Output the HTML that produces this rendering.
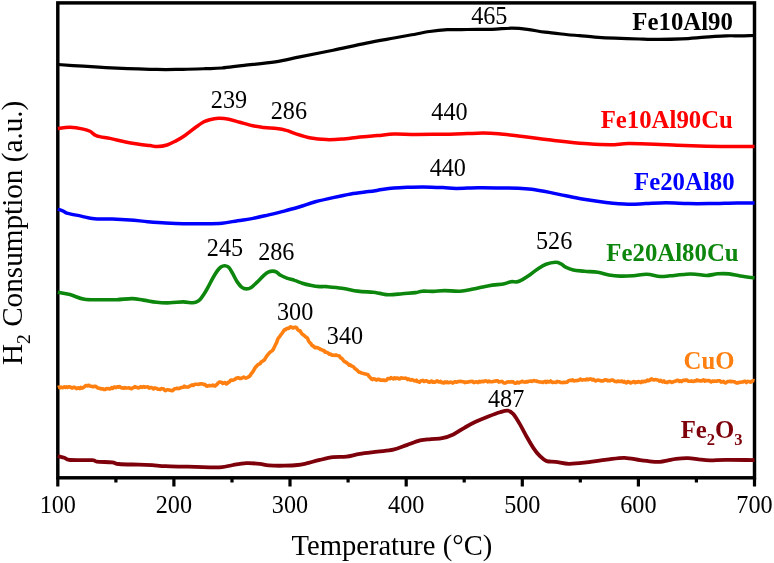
<!DOCTYPE html>
<html lang="en"><head><meta charset="utf-8"><title>H2-TPR profiles</title>
<style>html,body{margin:0;padding:0;background:#fff}body{width:774px;height:563px;overflow:hidden}svg{display:block}text{font-family:"Liberation Serif","Times New Roman",serif}.n{font-size:24.2px;fill:#000;text-anchor:middle}.b{font-size:24.8px;font-weight:bold;text-anchor:end}.ax{font-size:28.6px;fill:#000}</style></head><body>
<svg width="774" height="563" viewBox="0 0 774 563">
<rect x="0" y="0" width="774" height="563" fill="#ffffff"/>
<path d="M57.8,477.8 V486.4 M115.9,477.8 V482.4 M173.9,477.8 V486.4 M232.0,477.8 V482.4 M290.0,477.8 V486.4 M348.1,477.8 V482.4 M406.2,477.8 V486.4 M464.2,477.8 V482.4 M522.3,477.8 V486.4 M580.3,477.8 V482.4 M638.4,477.8 V486.4 M696.4,477.8 V482.4 M754.5,477.8 V486.4" stroke="#000" stroke-width="3.2" fill="none"/>
<rect x="57.8" y="2.9" width="696.7" height="474.9" fill="none" stroke="#000" stroke-width="3.45"/>
<path d="M57.8,64.5 C62.0,64.8 75.3,65.7 83.3,66.2 C91.3,66.7 98.2,67.2 105.6,67.6 C113.0,68.0 120.4,68.4 127.8,68.7 C135.2,69.0 143.7,69.2 150.0,69.3 C156.3,69.4 160.0,69.6 165.6,69.6 C171.2,69.6 176.6,69.4 183.3,69.3 C190.0,69.2 199.2,68.9 205.6,68.7 C212.0,68.5 215.6,68.6 222.0,68.0 C228.4,67.4 235.3,66.3 244.2,65.3 C253.1,64.3 266.0,63.2 275.3,61.8 C284.6,60.4 290.2,58.8 299.8,56.9 C309.4,55.0 322.0,52.5 333.1,50.2 C344.2,47.9 356.2,45.1 366.4,43.1 C376.5,41.1 386.4,39.4 394.0,38.0 C401.6,36.6 405.9,35.9 411.8,34.8 C417.7,33.7 423.7,32.4 429.6,31.5 C435.5,30.6 441.0,30.0 447.3,29.7 C453.6,29.4 459.9,29.6 467.3,29.5 C474.7,29.4 484.4,29.5 491.8,29.3 C499.2,29.1 505.9,28.2 511.8,28.2 C517.7,28.2 521.8,28.6 527.3,29.3 C532.8,30.0 538.6,31.3 545.1,32.2 C551.6,33.1 560.3,33.9 566.0,34.5 C571.7,35.1 574.5,35.2 579.3,35.6 C584.1,36.0 589.0,36.7 594.9,37.1 C600.8,37.5 607.5,37.9 614.9,38.2 C622.3,38.5 631.9,38.8 639.3,39.0 C646.7,39.2 652.2,39.4 659.3,39.4 C666.3,39.4 675.0,39.2 681.6,38.9 C688.2,38.6 693.9,38.1 699.0,37.7 C704.1,37.3 707.5,36.9 712.0,36.6 C716.5,36.3 721.3,35.9 726.0,35.8 C730.7,35.7 735.2,35.8 740.0,35.8 C744.8,35.8 752.1,35.5 754.5,35.5" fill="none" stroke="#000000" stroke-width="3.2" stroke-linejoin="round" stroke-linecap="butt"/>
<path d="M57.8,128.4 C59.8,128.2 65.8,127.2 70.0,127.3 C74.2,127.4 80.0,128.4 83.3,129.1 C86.6,129.8 87.8,130.2 90.0,131.3 C92.2,132.4 93.4,134.6 96.7,135.8 C100.0,137.0 105.2,137.4 110.0,138.4 C114.8,139.4 120.8,141.0 125.6,142.0 C130.4,143.0 134.8,143.6 138.9,144.2 C143.0,144.8 146.9,145.2 150.0,145.6 C153.1,146.0 154.7,146.7 157.5,146.6 C160.3,146.5 163.8,146.0 167.0,145.0 C170.2,144.0 173.3,142.2 176.4,140.6 C179.5,139.0 182.0,137.5 185.3,135.2 C188.6,132.9 193.3,129.0 196.4,126.8 C199.5,124.6 201.7,123.0 203.9,121.8 C206.1,120.6 207.2,120.3 209.6,119.7 C212.0,119.1 215.2,118.4 218.4,118.3 C221.6,118.2 225.2,118.5 228.8,119.2 C232.4,119.9 235.9,121.2 239.9,122.3 C243.9,123.4 248.7,124.9 252.7,125.8 C256.7,126.7 259.9,127.0 263.9,127.5 C267.9,128.0 273.0,128.1 276.7,128.6 C280.4,129.1 283.2,129.6 286.3,130.4 C289.4,131.2 291.2,132.3 295.3,133.6 C299.4,134.9 305.7,137.0 310.9,138.0 C316.1,139.0 321.2,139.4 326.4,139.6 C331.6,139.8 336.4,139.5 342.0,139.1 C347.6,138.7 353.9,137.5 359.8,136.9 C365.7,136.3 371.9,136.1 377.6,135.6 C383.3,135.1 387.6,134.2 394.0,134.0 C400.4,133.8 406.9,134.4 416.2,134.4 C425.5,134.4 441.1,134.3 449.6,134.2 C458.1,134.1 461.8,133.8 467.3,133.6 C472.9,133.4 477.7,133.1 482.9,133.1 C488.1,133.1 492.5,133.3 498.4,133.8 C504.3,134.3 511.7,135.2 518.4,136.0 C525.1,136.8 532.5,137.7 538.4,138.4 C544.3,139.1 549.4,139.9 554.0,140.4 C558.6,140.9 560.3,141.1 566.0,141.7 C571.7,142.3 580.8,143.3 588.2,143.8 C595.6,144.3 603.7,144.7 610.4,144.7 C617.1,144.7 620.8,143.7 628.2,143.6 C635.6,143.5 646.8,143.9 654.9,144.2 C663.0,144.5 669.7,145.0 677.1,145.3 C684.5,145.6 691.9,145.8 699.3,146.0 C706.7,146.2 712.4,146.3 721.6,146.4 C730.8,146.5 749.0,146.6 754.5,146.6" fill="none" stroke="#ff0000" stroke-width="3.5" stroke-linejoin="round" stroke-linecap="butt"/>
<path d="M57.8,209.2 C58.7,209.5 61.6,210.5 63.3,211.2 C65.0,211.9 64.8,212.6 67.8,213.4 C70.8,214.2 76.7,215.2 81.1,216.1 C85.5,217.0 89.2,218.3 94.4,218.8 C99.6,219.3 106.3,218.8 112.2,219.0 C118.1,219.2 124.1,219.5 130.0,219.9 C135.9,220.3 141.9,221.2 147.8,221.7 C153.7,222.2 159.7,222.7 165.6,223.0 C171.5,223.3 177.4,223.6 183.3,223.7 C189.2,223.8 194.7,223.8 201.1,223.7 C207.5,223.6 215.9,223.7 222.0,223.2 C228.1,222.7 232.4,221.5 237.6,220.7 C242.8,219.9 247.9,219.4 253.1,218.4 C258.3,217.4 263.5,216.1 268.7,214.9 C273.9,213.7 279.0,212.5 284.2,211.1 C289.4,209.7 294.6,208.2 299.8,206.7 C305.0,205.1 309.8,203.3 315.3,201.8 C320.9,200.3 327.2,198.9 333.1,197.6 C339.0,196.3 345.0,195.0 350.9,194.0 C356.8,193.0 363.5,192.3 368.7,191.6 C373.9,190.9 377.8,190.2 382.0,189.6 C386.2,189.0 389.8,188.5 394.0,188.1 C398.2,187.7 402.5,187.5 407.3,187.3 C412.1,187.1 417.0,186.9 422.9,186.9 C428.8,186.9 437.3,187.3 442.9,187.6 C448.4,187.8 450.3,188.4 456.2,188.4 C462.1,188.4 471.0,187.9 478.4,187.8 C485.8,187.7 494.0,187.9 500.7,188.0 C507.4,188.1 513.2,188.0 518.4,188.2 C523.6,188.4 526.6,188.6 531.8,189.3 C537.0,190.0 543.9,191.3 549.6,192.4 C555.3,193.5 560.3,194.7 566.0,195.8 C571.7,197.0 577.1,198.2 583.8,199.3 C590.5,200.4 598.6,201.6 606.0,202.4 C613.4,203.2 621.5,204.0 628.2,204.2 C634.9,204.4 639.7,203.8 646.0,203.6 C652.3,203.3 659.0,202.7 666.0,202.7 C673.0,202.7 680.8,203.4 688.2,203.6 C695.6,203.8 702.2,203.7 710.4,203.6 C718.5,203.5 729.8,203.0 737.1,202.9 C744.5,202.8 751.6,203.1 754.5,203.1" fill="none" stroke="#0000ff" stroke-width="3.5" stroke-linejoin="round" stroke-linecap="butt"/>
<path d="M57.8,292.3 C59.8,292.7 65.6,293.5 70.0,294.6 C74.4,295.8 79.2,298.4 84.4,299.2 C89.6,300.0 95.7,299.6 101.1,299.7 C106.5,299.8 111.5,299.9 116.7,299.7 C121.9,299.5 127.8,298.5 132.2,298.6 C136.6,298.7 139.2,299.5 143.3,300.1 C147.4,300.7 152.2,301.9 156.7,302.3 C161.1,302.8 165.6,302.9 170.0,302.8 C174.4,302.7 179.6,301.9 183.3,301.9 C187.0,301.9 190.1,302.8 192.2,302.8 C194.3,302.9 194.7,302.8 196.0,302.2 C197.3,301.6 198.8,300.7 200.1,299.4 C201.4,298.1 202.6,296.3 203.9,294.3 C205.2,292.3 206.4,290.2 207.8,287.6 C209.2,285.0 210.9,281.6 212.4,278.8 C213.9,276.1 215.7,273.1 217.1,271.1 C218.5,269.1 219.6,267.8 220.9,266.9 C222.2,266.0 223.5,265.6 224.8,265.7 C226.1,265.8 227.4,265.9 228.7,267.2 C230.0,268.5 231.2,270.9 232.6,273.4 C234.0,275.8 235.6,279.6 237.2,281.9 C238.8,284.2 240.3,286.2 241.9,287.4 C243.5,288.6 244.9,288.9 246.5,288.9 C248.1,288.9 249.4,288.6 251.2,287.4 C253.0,286.2 255.3,283.8 257.4,281.9 C259.5,279.9 261.8,277.3 263.6,275.7 C265.4,274.1 266.6,273.0 268.2,272.2 C269.8,271.4 271.5,271.1 272.9,271.1 C274.3,271.1 275.4,271.5 276.7,272.2 C278.0,272.9 278.9,274.3 280.6,275.3 C282.3,276.3 284.5,277.2 286.8,278.1 C289.1,279.0 292.0,279.5 294.6,280.4 C297.2,281.2 299.5,282.3 302.3,283.2 C305.1,284.1 308.7,284.9 311.6,285.5 C314.5,286.1 317.2,286.4 319.7,286.6 C322.2,286.8 322.7,286.3 326.4,286.6 C330.1,286.9 336.8,287.4 342.0,288.2 C347.2,288.9 352.4,290.4 357.6,291.1 C362.8,291.8 369.4,291.8 373.1,292.2 C376.8,292.6 377.4,293.0 380.0,293.4 C382.6,293.8 385.2,294.8 388.9,294.8 C392.6,294.9 397.8,294.1 402.2,293.7 C406.6,293.3 412.3,293.0 415.6,292.6 C418.9,292.2 419.2,291.4 422.2,291.2 C425.1,291.0 429.6,291.5 433.3,291.4 C437.0,291.3 439.9,290.6 444.4,290.6 C448.8,290.6 455.2,291.5 460.0,291.2 C464.8,290.9 468.5,289.9 473.3,289.0 C478.1,288.1 483.7,286.6 488.9,285.7 C494.1,284.8 500.7,284.4 504.4,283.7 C508.1,283.0 509.1,282.0 511.1,281.7 C513.2,281.4 514.9,282.2 516.7,281.9 C518.5,281.6 520.0,280.9 522.0,279.8 C524.0,278.7 526.4,277.2 528.9,275.5 C531.4,273.8 534.1,271.4 537.0,269.5 C539.9,267.6 542.9,265.5 546.0,264.3 C549.1,263.1 553.1,262.4 555.6,262.3 C558.1,262.2 559.4,263.1 561.1,263.9 C562.8,264.7 563.6,266.2 565.6,267.2 C567.6,268.2 570.2,269.4 573.3,270.1 C576.4,270.8 580.3,270.8 584.4,271.2 C588.5,271.6 593.7,271.7 597.8,272.3 C601.9,272.9 605.2,274.4 608.9,275.0 C612.6,275.6 615.9,276.0 620.0,276.1 C624.1,276.2 628.8,276.0 633.3,275.7 C637.8,275.4 642.2,274.2 646.7,274.3 C651.2,274.4 656.1,276.2 660.0,276.5 C663.9,276.8 665.7,276.2 670.0,275.8 C674.3,275.4 681.8,274.5 686.0,274.2 C690.2,273.9 692.0,274.0 695.5,274.2 C699.0,274.4 703.0,275.6 706.7,275.5 C710.4,275.4 714.2,274.1 717.9,273.8 C721.6,273.5 725.4,273.5 729.1,273.9 C732.8,274.3 736.1,275.3 740.3,276.0 C744.5,276.7 752.1,277.6 754.5,277.9" fill="none" stroke="#0c860c" stroke-width="3.6" stroke-linejoin="round" stroke-linecap="butt"/>
<path d="M57.8,387.5 L58.9,387.1 L60.0,387.8 L61.1,387.1 L62.2,387.6 L63.3,387.5 L64.4,386.9 L65.5,387.5 L66.6,386.9 L67.7,387.4 L68.8,386.9 L69.9,386.8 L71.0,387.3 L72.1,388.2 L73.2,387.3 L74.3,387.2 L75.4,387.8 L76.5,388.6 L77.6,388.2 L78.7,387.8 L79.8,388.6 L80.9,387.3 L82.0,388.2 L83.1,387.6 L84.2,386.9 L85.3,386.0 L86.4,385.5 L87.5,385.9 L88.6,385.2 L89.7,385.8 L90.8,386.3 L91.9,386.3 L93.0,386.8 L94.1,386.3 L95.2,386.3 L96.3,386.7 L97.4,387.9 L98.5,388.1 L99.6,388.2 L100.7,388.8 L101.8,388.9 L102.9,388.7 L104.0,389.5 L105.1,389.5 L106.2,388.6 L107.3,388.7 L108.4,388.6 L109.5,389.0 L110.6,388.7 L111.7,387.7 L112.8,388.4 L113.9,387.1 L115.0,387.1 L116.1,387.7 L117.2,386.8 L118.3,387.1 L119.4,386.5 L120.5,387.4 L121.6,387.9 L122.7,387.8 L123.8,388.3 L124.9,387.6 L126.0,388.0 L127.1,388.0 L128.2,388.0 L129.3,387.8 L130.4,388.4 L131.5,388.7 L132.6,387.9 L133.7,387.8 L134.8,386.7 L135.9,387.3 L137.0,387.3 L138.1,387.9 L139.2,387.8 L140.3,386.9 L141.4,386.8 L142.5,387.4 L143.6,386.6 L144.7,387.2 L145.8,387.0 L146.9,387.0 L148.0,386.9 L149.1,388.2 L150.2,387.6 L151.3,387.6 L152.4,387.9 L153.5,388.9 L154.6,387.9 L155.7,388.2 L156.8,388.5 L157.9,389.2 L159.0,389.3 L160.1,389.5 L161.2,388.6 L162.3,388.7 L163.4,388.8 L164.5,390.0 L165.6,390.7 L166.7,389.8 L167.8,389.8 L168.9,390.0 L170.0,390.1 L171.1,390.6 L172.2,390.8 L173.3,390.0 L174.4,388.9 L175.5,388.8 L176.6,388.3 L177.7,388.2 L178.8,388.6 L179.9,388.2 L181.0,387.6 L182.1,387.4 L183.2,387.3 L184.3,386.1 L185.4,387.0 L186.5,387.0 L187.6,387.1 L188.7,386.9 L189.8,386.0 L190.9,385.6 L192.0,384.9 L193.1,385.5 L194.2,384.6 L195.3,384.2 L196.4,384.3 L197.5,384.2 L198.6,384.4 L199.7,384.0 L200.8,383.7 L201.9,383.9 L203.0,384.0 L204.1,384.7 L205.2,384.5 L206.3,386.0 L207.4,386.2 L208.5,385.6 L209.6,385.6 L210.7,385.7 L211.8,385.6 L212.9,385.0 L214.0,385.8 L215.1,386.1 L216.2,385.0 L217.3,384.1 L218.4,382.7 L219.5,382.0 L220.6,382.2 L221.7,382.3 L222.8,383.5 L223.9,382.9 L225.0,382.6 L226.1,384.0 L227.2,383.5 L228.3,382.2 L229.4,381.9 L230.5,380.3 L231.6,380.1 L232.7,380.3 L233.8,379.9 L234.9,379.3 L236.0,378.3 L237.1,378.0 L238.2,377.6 L239.3,378.4 L240.4,378.2 L241.5,378.4 L242.6,377.6 L243.7,377.1 L244.8,377.7 L245.9,378.1 L247.0,377.7 L248.1,377.2 L249.2,376.5 L250.3,375.3 L251.4,373.3 L252.5,372.3 L253.6,370.6 L254.7,368.5 L255.8,366.8 L256.9,365.8 L258.0,364.6 L259.1,364.1 L260.2,363.6 L261.3,361.8 L262.4,361.3 L263.5,360.6 L264.6,359.6 L265.7,357.7 L266.8,356.0 L267.9,354.7 L269.0,353.4 L270.1,352.1 L271.2,351.4 L272.3,350.6 L273.4,349.1 L274.5,346.7 L275.6,344.5 L276.7,342.4 L277.8,339.1 L278.9,337.5 L280.0,336.1 L281.1,334.5 L282.2,333.1 L283.3,331.4 L284.4,329.7 L285.5,329.7 L286.6,328.5 L287.7,328.4 L288.8,328.4 L289.9,327.2 L291.0,326.8 L292.1,327.7 L293.2,327.9 L294.3,327.2 L295.4,327.2 L296.5,327.6 L297.6,329.5 L298.7,330.6 L299.8,330.5 L300.9,332.3 L302.0,333.9 L303.1,334.7 L304.2,335.4 L305.3,336.7 L306.4,337.3 L307.5,338.2 L308.6,341.0 L309.7,342.4 L310.8,343.5 L311.9,345.4 L313.0,345.7 L314.1,347.0 L315.2,347.8 L316.3,347.4 L317.4,347.7 L318.5,348.2 L319.6,348.6 L320.7,349.6 L321.8,349.8 L322.9,350.5 L324.0,350.5 L325.1,352.2 L326.2,352.1 L327.3,352.6 L328.4,353.3 L329.5,354.3 L330.6,354.1 L331.7,355.1 L332.8,355.0 L333.9,355.2 L335.0,355.4 L336.1,354.9 L337.2,355.6 L338.3,355.8 L339.4,356.0 L340.5,357.9 L341.6,358.2 L342.7,359.5 L343.8,361.0 L344.9,361.8 L346.0,362.2 L347.1,363.1 L348.2,364.0 L349.3,365.2 L350.4,364.9 L351.5,366.0 L352.6,366.4 L353.7,367.0 L354.8,368.6 L355.9,369.3 L357.0,370.1 L358.1,371.2 L359.2,372.3 L360.3,372.3 L361.4,372.9 L362.5,373.2 L363.6,373.4 L364.7,374.0 L365.8,374.0 L366.9,374.4 L368.0,374.8 L369.1,376.5 L370.2,377.6 L371.3,378.9 L372.4,379.6 L373.5,378.7 L374.6,379.0 L375.7,379.8 L376.8,380.1 L377.9,379.2 L379.0,379.2 L380.1,380.1 L381.2,380.0 L382.3,380.3 L383.4,380.0 L384.5,380.5 L385.6,380.4 L386.7,380.1 L387.8,378.5 L388.9,378.8 L390.0,378.7 L391.1,377.6 L392.2,378.4 L393.3,378.9 L394.4,377.8 L395.5,378.6 L396.6,378.0 L397.7,378.0 L398.8,378.9 L399.9,378.9 L401.0,377.9 L402.1,378.0 L403.2,378.2 L404.3,378.2 L405.4,378.1 L406.5,378.5 L407.6,379.6 L408.7,378.9 L409.8,379.8 L410.9,380.1 L412.0,379.6 L413.1,380.1 L414.2,380.8 L415.3,380.9 L416.4,380.2 L417.5,381.6 L418.6,381.8 L419.7,382.2 L420.8,380.9 L421.9,380.8 L423.0,380.4 L424.1,381.5 L425.2,381.1 L426.3,380.7 L427.4,381.1 L428.5,382.1 L429.6,382.3 L430.7,381.5 L431.8,381.0 L432.9,382.2 L434.0,382.0 L435.1,382.2 L436.2,381.3 L437.3,380.9 L438.4,381.9 L439.5,381.9 L440.6,381.3 L441.7,382.6 L442.8,382.6 L443.9,382.9 L445.0,381.8 L446.1,382.7 L447.2,381.8 L448.3,382.8 L449.4,382.5 L450.5,382.1 L451.6,382.4 L452.7,383.1 L453.8,382.3 L454.9,381.7 L456.0,382.2 L457.1,381.9 L458.2,381.6 L459.3,381.5 L460.4,381.3 L461.5,381.5 L462.6,381.8 L463.7,381.8 L464.8,382.6 L465.9,382.1 L467.0,382.3 L468.1,381.8 L469.2,381.9 L470.3,381.4 L471.4,381.6 L472.5,381.3 L473.6,382.4 L474.7,382.4 L475.8,381.8 L476.9,381.9 L478.0,382.6 L479.1,381.4 L480.2,382.0 L481.3,381.5 L482.4,381.3 L483.5,381.7 L484.6,381.0 L485.7,380.9 L486.8,381.2 L487.9,381.9 L489.0,381.0 L490.1,381.6 L491.2,381.7 L492.3,381.7 L493.4,381.4 L494.5,381.3 L495.6,380.8 L496.7,380.9 L497.8,380.9 L498.9,382.1 L500.0,381.8 L501.1,381.6 L502.2,381.4 L503.3,382.6 L504.4,383.1 L505.5,382.9 L506.6,382.2 L507.7,381.9 L508.8,381.9 L509.9,382.1 L511.0,381.7 L512.1,382.0 L513.2,381.8 L514.3,382.9 L515.4,383.3 L516.5,382.8 L517.6,382.0 L518.7,383.0 L519.8,382.2 L520.9,382.0 L522.0,381.3 L523.1,381.7 L524.2,382.0 L525.3,382.1 L526.4,381.6 L527.5,381.9 L528.6,381.2 L529.7,381.3 L530.8,381.0 L531.9,381.4 L533.0,380.9 L534.1,380.6 L535.2,381.0 L536.3,381.0 L537.4,381.5 L538.5,381.6 L539.6,382.0 L540.7,382.0 L541.8,382.1 L542.9,382.4 L544.0,381.7 L545.1,381.4 L546.2,382.4 L547.3,381.3 L548.4,381.9 L549.5,382.0 L550.6,381.0 L551.7,382.0 L552.8,382.5 L553.9,382.2 L555.0,382.3 L556.1,382.5 L557.2,381.4 L558.3,381.7 L559.4,381.8 L560.5,382.4 L561.6,382.5 L562.7,382.6 L563.8,382.2 L564.9,382.5 L566.0,382.2 L567.1,382.1 L568.2,381.1 L569.3,380.4 L570.4,380.2 L571.5,380.4 L572.6,379.9 L573.7,380.9 L574.8,380.7 L575.9,380.6 L577.0,380.5 L578.1,380.4 L579.2,380.0 L580.3,379.0 L581.4,379.9 L582.5,380.1 L583.6,379.8 L584.7,379.7 L585.8,379.9 L586.9,379.0 L588.0,379.8 L589.1,379.3 L590.2,378.9 L591.3,379.1 L592.4,380.0 L593.5,379.4 L594.6,380.2 L595.7,380.9 L596.8,380.4 L597.9,380.1 L599.0,380.2 L600.1,380.6 L601.2,380.9 L602.3,380.8 L603.4,380.9 L604.5,380.0 L605.6,379.8 L606.7,380.0 L607.8,380.9 L608.9,380.5 L610.0,380.9 L611.1,380.1 L612.2,380.0 L613.3,380.3 L614.4,381.2 L615.5,381.5 L616.6,381.7 L617.7,381.1 L618.8,381.4 L619.9,381.4 L621.0,381.5 L622.1,381.0 L623.2,382.1 L624.3,381.4 L625.4,382.5 L626.5,382.9 L627.6,381.5 L628.7,381.7 L629.8,382.5 L630.9,383.0 L632.0,382.4 L633.1,381.8 L634.2,381.6 L635.3,382.7 L636.4,381.9 L637.5,382.2 L638.6,381.6 L639.7,381.9 L640.8,382.6 L641.9,381.3 L643.0,381.9 L644.1,381.3 L645.2,381.6 L646.3,381.2 L647.4,380.2 L648.5,380.8 L649.6,380.3 L650.7,379.3 L651.8,378.9 L652.9,379.7 L654.0,379.9 L655.1,379.8 L656.2,379.6 L657.3,380.0 L658.4,380.2 L659.5,381.2 L660.6,380.3 L661.7,381.3 L662.8,381.9 L663.9,381.0 L665.0,382.2 L666.1,382.2 L667.2,382.6 L668.3,381.7 L669.4,381.6 L670.5,381.5 L671.6,382.5 L672.7,382.1 L673.8,381.5 L674.9,381.4 L676.0,381.0 L677.1,380.4 L678.2,380.3 L679.3,381.4 L680.4,380.8 L681.5,381.6 L682.6,380.7 L683.7,380.3 L684.8,380.5 L685.9,380.0 L687.0,380.1 L688.1,381.1 L689.2,381.3 L690.3,381.2 L691.4,380.9 L692.5,381.3 L693.6,381.5 L694.7,380.9 L695.8,381.0 L696.9,379.9 L698.0,380.7 L699.1,380.5 L700.2,381.0 L701.3,381.0 L702.4,380.5 L703.5,379.9 L704.6,381.2 L705.7,380.4 L706.8,380.7 L707.9,380.6 L709.0,380.5 L710.1,381.3 L711.2,382.0 L712.3,381.0 L713.4,381.4 L714.5,381.0 L715.6,381.3 L716.7,381.2 L717.8,380.8 L718.9,380.7 L720.0,380.8 L721.1,382.1 L722.2,381.9 L723.3,381.4 L724.4,382.4 L725.5,383.0 L726.6,382.3 L727.7,381.6 L728.8,381.5 L729.9,381.3 L731.0,381.7 L732.1,381.4 L733.2,381.6 L734.3,381.7 L735.4,382.3 L736.5,383.0 L737.6,383.0 L738.7,382.5 L739.8,382.2 L740.9,382.3 L742.0,382.1 L743.1,381.9 L744.2,381.3 L745.3,381.4 L746.4,382.5 L747.5,381.4 L748.6,381.6 L749.7,381.8 L750.8,382.2 L751.9,381.2 L753.0,380.8 L754.1,380.6 L754.5,380.7" fill="none" stroke="#ff8010" stroke-width="3.6" stroke-linejoin="round" stroke-linecap="butt"/>
<path d="M57.8,456.2 C58.9,456.5 62.4,457.2 64.4,457.8 C66.4,458.4 65.4,459.6 70.0,460.0 C74.6,460.4 87.8,459.9 92.2,460.2 C96.7,460.5 93.4,461.2 96.7,461.6 C100.0,462.0 108.5,462.0 112.2,462.4 C115.9,462.8 114.5,463.6 118.9,464.0 C123.4,464.4 133.4,464.5 138.9,464.7 C144.4,464.9 147.8,464.9 152.2,465.1 C156.6,465.4 159.7,465.9 165.6,466.2 C171.5,466.5 180.4,466.5 187.8,466.7 C195.2,466.9 204.3,467.2 210.0,467.3 C215.7,467.4 218.2,467.6 222.0,467.2 C225.8,466.8 229.0,465.7 233.1,465.0 C237.2,464.3 241.9,463.4 246.4,463.2 C250.9,463.0 256.1,463.5 259.8,463.9 C263.5,464.3 264.6,465.1 268.7,465.4 C272.8,465.7 279.4,465.8 284.2,465.7 C289.0,465.6 293.9,465.4 297.6,465.0 C301.3,464.6 302.7,464.2 306.4,463.4 C310.1,462.5 315.4,460.9 319.8,459.9 C324.2,458.9 328.7,457.8 333.1,457.2 C337.5,456.6 341.9,457.2 346.4,456.6 C350.8,456.1 354.6,454.7 359.8,453.9 C365.0,453.1 372.0,452.4 377.6,451.7 C383.2,451.0 388.5,450.8 393.3,449.7 C398.1,448.6 402.2,446.7 406.7,445.1 C411.1,443.6 415.9,441.4 420.0,440.4 C424.1,439.4 427.4,439.5 431.1,439.1 C434.8,438.7 438.5,439.0 442.2,438.2 C445.9,437.4 449.6,436.1 453.3,434.4 C457.0,432.7 460.7,429.9 464.4,427.8 C468.1,425.7 471.5,423.7 475.6,421.8 C479.7,419.9 484.8,417.8 488.9,416.2 C493.0,414.6 496.9,413.1 500.0,412.2 C503.1,411.3 505.6,410.4 507.8,410.7 C510.0,411.0 511.3,411.7 513.3,414.0 C515.3,416.3 517.8,420.6 520.0,424.4 C522.2,428.2 524.5,432.8 526.7,436.7 C528.9,440.6 531.1,444.6 533.3,447.8 C535.5,451.1 537.8,454.0 540.0,456.2 C542.2,458.4 544.1,460.2 546.7,461.1 C549.3,462.0 551.9,461.4 555.6,461.8 C559.3,462.2 564.1,463.7 568.9,463.8 C573.7,463.9 578.1,463.4 584.4,462.7 C590.7,462.0 600.0,460.4 606.7,459.6 C613.4,458.8 618.9,457.7 624.4,457.8 C629.9,457.9 635.4,459.6 640.0,460.2 C644.6,460.8 648.7,461.3 652.0,461.6 C655.3,461.9 657.3,462.0 660.0,461.8 C662.7,461.6 665.3,460.9 668.0,460.4 C670.7,459.9 672.7,459.3 676.0,458.9 C679.3,458.5 684.2,458.1 688.0,458.2 C691.8,458.3 695.1,459.0 698.7,459.4 C702.4,459.8 705.4,460.3 709.9,460.4 C714.4,460.5 718.5,459.9 725.9,459.9 C733.3,459.8 749.7,460.1 754.5,460.1" fill="none" stroke="#7d000a" stroke-width="3.8" stroke-linejoin="round" stroke-linecap="butt"/>
<text class="n" x="57.8" y="512.6">100</text>
<text class="n" x="173.9" y="512.6">200</text>
<text class="n" x="290.0" y="512.6">300</text>
<text class="n" x="406.2" y="512.6">400</text>
<text class="n" x="522.3" y="512.6">500</text>
<text class="n" x="638.4" y="512.6">600</text>
<text class="n" x="754.5" y="512.6">700</text>
<text class="n" x="489.3" y="23.9">465</text>
<text class="n" x="229.0" y="108.4">239</text>
<text class="n" x="288.9" y="118.7">286</text>
<text class="n" x="449.5" y="119.6">440</text>
<text class="n" x="447.8" y="175.6">440</text>
<text class="n" x="225.0" y="255.6">245</text>
<text class="n" x="276.3" y="259.8">286</text>
<text class="n" x="554.1" y="249.2">526</text>
<text class="n" x="295.1" y="319.6">300</text>
<text class="n" x="345.0" y="343.9">340</text>
<text class="n" x="506.1" y="406.8">487</text>
<text class="b" x="732.9" y="30.4" fill="#000000">Fe10Al90</text>
<text class="b" x="732.9" y="127.8" fill="#ff0000">Fe10Al90Cu</text>
<text class="b" x="734.6" y="190.4" fill="#0000ff">Fe20Al80</text>
<text class="b" x="738.6" y="260.5" fill="#0c860c">Fe20Al80Cu</text>
<text class="b" x="734.6" y="369.1" fill="#ff8010">CuO</text>
<text class="b" x="742.6" y="438" fill="#7d000a">Fe<tspan font-size="16.5" dy="6.8">2</tspan><tspan dy="-6.8">O</tspan><tspan font-size="16.5" dy="6.8">3</tspan></text>
<text class="ax" x="291.5" y="554.8">Temperature (°C)</text>
<text class="ax" style="font-size:29.2px" transform="translate(21.5,365) rotate(-90)">H<tspan font-size="19.5" dy="8">2</tspan><tspan dy="-8"> Consumption (a.u.)</tspan></text>
</svg></body></html>
